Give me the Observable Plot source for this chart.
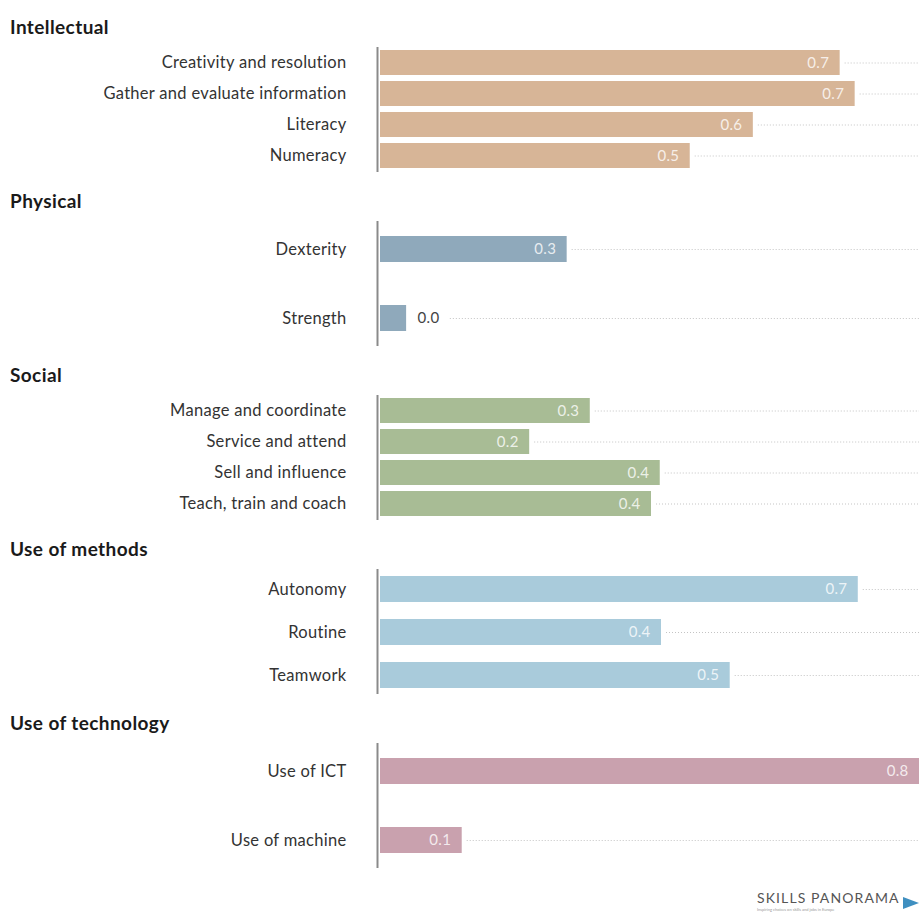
<!DOCTYPE html>
<html>
<head>
<meta charset="utf-8">
<script src="https://cdn.jsdelivr.net/npm/d3@7"></script>
<script src="https://cdn.jsdelivr.net/npm/@observablehq/plot@0.6"></script>
<style>
  html, body { margin: 0; padding: 0; background: #fff; }
  body { width: 919px; height: 917px; overflow: hidden; font-family: Lato, sans-serif; }
  .block { height: 174px; position: relative; }
  .head { padding-top: 15px; height: 24px; line-height: 24px; padding-left: 10px; font-weight: 700; font-size: 19px; letter-spacing: 0.4px; color: #1a1a1a; }
  .block svg { display: block; }
  .footer { position: relative; height: 47px; }
  .logo { position: absolute; left: 757px; top: 21px; width: 145px; }
  .logo .t { font-size: 14px; color: #555; letter-spacing: 1.1px; line-height: 14px; white-space: nowrap; }
  .logo .s { font-size: 4px; color: #999; line-height: 5px; margin-top: 2px; white-space: nowrap; }
  .arrow { position: absolute; left: 903px; top: 27px; width: 0; height: 0; border-top: 6px solid transparent; border-bottom: 6px solid transparent; border-left: 16px solid #3f8fc0; }
</style>
</head>
<body>
<div id="chart"></div>
<script>
// ---- data ----
const groups = ["Intellectual", "Physical", "Social", "Use of methods", "Use of technology"];
const intellectualSkills = ["Creativity and resolution", "Gather and evaluate information", "Literacy", "Numeracy"];
const intellectualValues = [0.739, 0.763, 0.600, 0.499];
const intellectualLabels = ["0.7", "0.7", "0.6", "0.5"];
const physicalSkills = ["Dexterity", "Strength"];
const physicalValues = [0.302, 0.045];
const physicalLabels = ["0.3", "0.0"];
const socialSkills = ["Manage and coordinate", "Service and attend", "Sell and influence", "Teach, train and coach"];
const socialValues = [0.339, 0.242, 0.451, 0.437];
const socialLabels = ["0.3", "0.2", "0.4", "0.4"];
const methodsSkills = ["Autonomy", "Routine", "Teamwork"];
const methodsValues = [0.768, 0.453, 0.563];
const methodsLabels = ["0.7", "0.4", "0.5"];
const technologySkills = ["Use of ICT", "Use of machine"];
const technologyValues = [0.87, 0.134];
const technologyLabels = ["0.8", "0.1"];
const groupColors = ["#d7b597", "#8fa9bb", "#a8bc95", "#a9cbdb", "#c9a1ae"];

const xMax = 0.866;
const skillsByGroup = [intellectualSkills, physicalSkills, socialSkills, methodsSkills, technologySkills];
const valuesByGroup = [intellectualValues, physicalValues, socialValues, methodsValues, technologyValues];
const labelsByGroup = [intellectualLabels, physicalLabels, socialLabels, methodsLabels, technologyLabels];
// band paddings by number of rows (style)
const padding = {2: [0.618, 0.214], 3: [0.402, 0.138], 4: [0.1875, 0.047]};

const root = document.getElementById("chart");
groups.forEach((g, gi) => {
  const skills = skillsByGroup[gi];
  const rows = skills.map((s, i) => ({skill: s, value: valuesByGroup[gi][i], label: labelsByGroup[gi][i]}));
  const inside = rows.filter(d => d.value >= 0.08);
  const outside = rows.filter(d => d.value < 0.08);
  const [pi, po] = padding[skills.length];
  const block = document.createElement("div");
  block.className = "block";
  const head = document.createElement("div");
  head.className = "head";
  head.textContent = g;
  block.appendChild(head);
  const plot = Plot.plot({
    width: 919,
    height: 135,
    marginLeft: 378,
    marginRight: 0,
    marginTop: 8,
    marginBottom: 2,
    style: {fontFamily: "Lato, sans-serif", fontSize: "16.5px", letterSpacing: "0.3px", color: "#333", background: "transparent"},
    x: {domain: [0, xMax], axis: null, clamp: true},
    y: {domain: skills, paddingInner: pi, paddingOuter: po, align: 0.5, label: null, tickSize: 0, tickPadding: 32},
    marks: [
      Plot.ruleY(inside, {y: "skill", x1: d => d.value + 0.008, x2: xMax, stroke: "#c4c4c4", strokeWidth: 1, strokeDasharray: "1,2"}),
      Plot.ruleY(outside, {y: "skill", x1: d => d.value + 0.07, x2: xMax, stroke: "#c4c4c4", strokeWidth: 1, strokeDasharray: "1,2"}),
      Plot.barX(rows, {y: "skill", x1: 0, x2: "value", fill: groupColors[gi], insetLeft: 2}),
      Plot.text(inside, {y: "skill", x: "value", text: "label", dx: -11, textAnchor: "end", fill: "#fff", fillOpacity: 0.8, fontSize: 15}),
      Plot.text(outside, {y: "skill", x: "value", text: "label", dx: 11, textAnchor: "start", fill: "#444", fontSize: 15}),
      Plot.ruleX([0], {stroke: "#8a8a8a", strokeWidth: 2, dx: -1})
    ]
  });
  block.appendChild(plot);
  root.appendChild(block);
});
const footer = document.createElement("div");
footer.className = "footer";
footer.innerHTML = '<div class="logo"><div class="t">SKILLS PANORAMA</div><div class="s">Inspiring choices on skills and jobs in Europe</div></div><div class="arrow"></div>';
root.appendChild(footer);
</script>
</body>
</html>
